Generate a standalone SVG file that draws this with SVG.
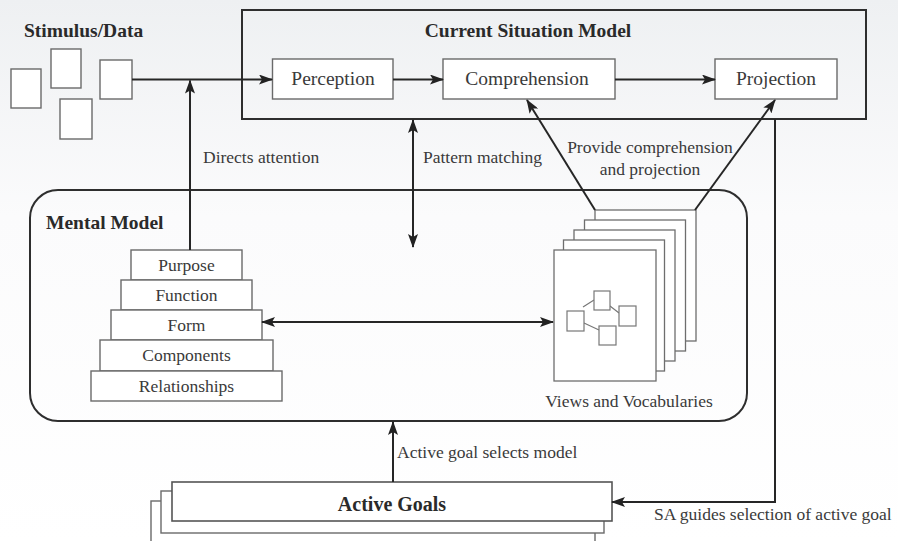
<svg xmlns="http://www.w3.org/2000/svg" width="898" height="541" viewBox="0 0 898 541">
<defs>
<linearGradient id="bg" x1="0" y1="0" x2="0" y2="1">
<stop offset="0" stop-color="#eef0f2"/>
<stop offset="0.4" stop-color="#fbfbfc"/>
<stop offset="1" stop-color="#ffffff"/>
</linearGradient>
<marker id="ah" viewBox="0 0 14 10" refX="13" refY="5" markerWidth="14" markerHeight="10" markerUnits="userSpaceOnUse" orient="auto-start-reverse">
<path d="M0,0 L14,5 L0,10 L3,5 Z" fill="#222"/>
</marker>
<style>
text{font-family:'Liberation Serif','Times New Roman','DejaVu Serif',serif}
.t{font-size:17.5px;fill:#3a3a3a}
.bl{font-size:19.5px;fill:#3a3a3a}
.b{font-size:19.5px;font-weight:bold;fill:#2a2a2a}
.box{fill:#fff;stroke:#6a6a6a;stroke-width:1.4}
.frame{fill:none;stroke:#2e2e2e;stroke-width:2}
.ln{fill:none;stroke:#262626;stroke-width:2}
.pg{fill:#fff;stroke:#6e6e6e;stroke-width:1.3}
.ic{fill:#fff;stroke:#777;stroke-width:1.2}
</style>
</defs>
<rect x="0" y="0" width="898" height="541" fill="url(#bg)"/>

<g id="stimulus">
<text class="b" x="24" y="37" font-family="Liberation Serif, serif">Stimulus/Data</text>
<rect class="box" x="11" y="69" width="30" height="39"/>
<rect class="box" x="51" y="49" width="30" height="39"/>
<rect class="box" x="60" y="99" width="32" height="40"/>
<rect class="box" x="100" y="60" width="32" height="39"/>
</g>

<g id="current-situation-model">
<rect class="frame" x="242" y="10" width="624" height="109"/>
<text class="b" x="528" y="37" text-anchor="middle">Current Situation Model</text>
</g>
<g id="perception">
<rect class="box" x="272.5" y="59" width="120.5" height="40"/>
<text class="bl" x="333" y="85" text-anchor="middle">Perception</text>
</g>
<g id="comprehension">
<rect class="box" x="443" y="59" width="172" height="40"/>
<text class="bl" x="527" y="85" text-anchor="middle">Comprehension</text>
</g>
<g id="projection">
<rect class="box" x="715" y="59" width="122" height="40"/>
<text class="bl" x="776" y="85" text-anchor="middle">Projection</text>
</g>

<g id="mental-model">
<rect class="frame" x="30" y="190" width="717" height="231" rx="28" ry="28"/>
<text class="b" x="46" y="229">Mental Model</text>
</g>

<g id="pyramid">
<rect class="box" x="131" y="250" width="111" height="30"/>
<text class="t" x="186.5" y="271" text-anchor="middle">Purpose</text>
<rect class="box" x="121" y="280" width="131" height="30"/>
<text class="t" x="186.5" y="301" text-anchor="middle">Function</text>
<rect class="box" x="111" y="310" width="151" height="30"/>
<text class="t" x="186.5" y="331" text-anchor="middle">Form</text>
<rect class="box" x="100" y="340" width="173" height="31"/>
<text class="t" x="186.5" y="361" text-anchor="middle">Components</text>
<rect class="box" x="91" y="371" width="191" height="30"/>
<text class="t" x="186.5" y="392" text-anchor="middle">Relationships</text>
</g>

<g id="views-and-vocabularies">
<rect class="pg" x="595" y="210" width="101" height="131"/>
<rect class="pg" x="584.5" y="220" width="101" height="131"/>
<rect class="pg" x="574" y="230" width="101" height="131"/>
<rect class="pg" x="563.5" y="240" width="101" height="131"/>
<rect class="pg" x="554" y="250" width="102" height="131"/>
<g id="view-icon">
<path d="M583,307 L594,300 M610,306 L619,313 M584,323 L599,330" stroke="#777" stroke-width="1.2" fill="none"/>
<rect class="ic" x="567" y="311" width="17" height="20"/>
<rect class="ic" x="594" y="291" width="16" height="19"/>
<rect class="ic" x="619" y="306" width="17" height="20"/>
<rect class="ic" x="599" y="326" width="17" height="19"/>
</g>
<text class="t" x="629" y="407" text-anchor="middle">Views and Vocabularies</text>
</g>

<g id="active-goals">
<rect class="box" x="151" y="501" width="444" height="50"/>
<rect class="box" x="161" y="491" width="443" height="42"/>
<rect class="box" x="172" y="482" width="440" height="39" style="stroke:#555;stroke-width:1.6"/>
<text class="b" x="392" y="511" text-anchor="middle" style="font-size:20px">Active Goals</text>
</g>

<g id="connectors">
<line class="ln" x1="132" y1="79.5" x2="272" y2="79.5" marker-end="url(#ah)"/>
<line class="ln" x1="393" y1="79.5" x2="443" y2="79.5" marker-end="url(#ah)"/>
<line class="ln" x1="615" y1="79.5" x2="715" y2="79.5" marker-end="url(#ah)"/>
<line class="ln" x1="190" y1="250" x2="190" y2="80.5" marker-end="url(#ah)"/>
<line class="ln" x1="413" y1="120" x2="413" y2="247" marker-start="url(#ah)" marker-end="url(#ah)"/>
<line class="ln" x1="262" y1="322" x2="553" y2="322" marker-start="url(#ah)" marker-end="url(#ah)"/>
<line class="ln" x1="595" y1="210" x2="527" y2="100" marker-end="url(#ah)"/>
<line class="ln" x1="695" y1="210" x2="775" y2="100" marker-end="url(#ah)"/>
<line class="ln" x1="393" y1="482" x2="393" y2="422" marker-end="url(#ah)"/>
<polyline class="ln" points="775,119 775,502 612,502" marker-end="url(#ah)"/>
<text class="t" x="203" y="163">Directs attention</text>
<text class="t" x="423" y="163">Pattern matching</text>
<text class="t" x="650" y="153" text-anchor="middle">Provide comprehension</text>
<text class="t" x="650" y="175" text-anchor="middle">and projection</text>
<text class="t" x="397" y="458">Active goal selects model</text>
<text class="t" x="654" y="520">SA guides selection of active goal</text>
</g>
</svg>
